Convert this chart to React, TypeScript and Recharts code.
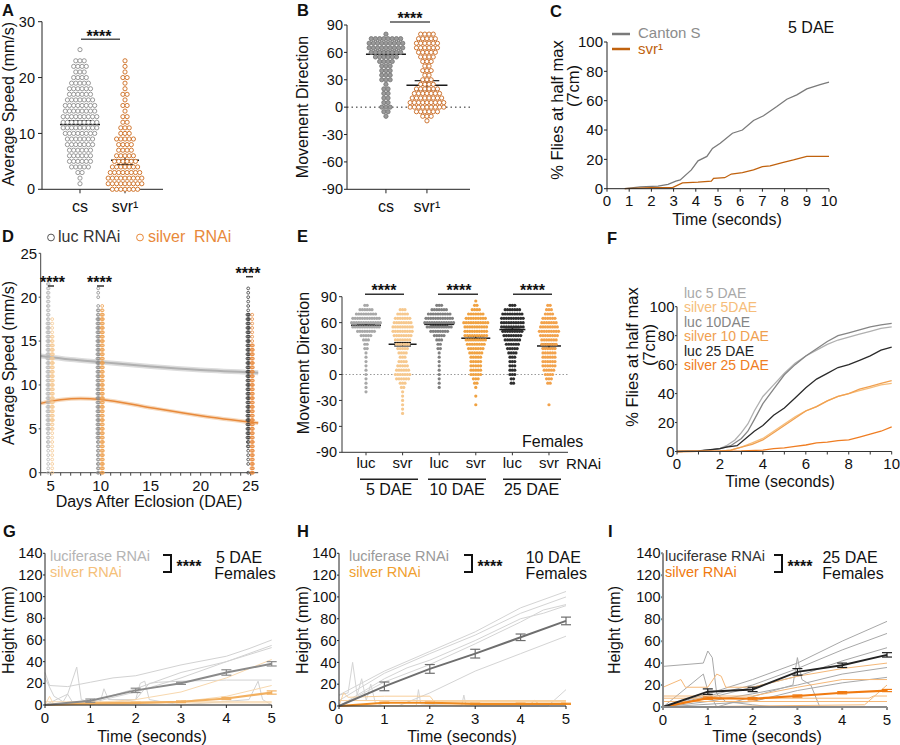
import React from "react";
import { ComposedChart, Scatter, Line, XAxis, YAxis, ReferenceLine, ErrorBar } from "recharts";

const W = 900;
const H = 745;
const FONT = '"Liberation Sans", Arial, Helvetica, sans-serif';
const NARROW = '"Liberation Sans Narrow", "Liberation Sans", Arial, sans-serif';

// ---------- A: average speed (mm/s), counts of flies per 1 mm/s row ----------
const strainNames = ["cs", "svr¹"];
const speedBins = [0, 1, 2, 3, 4, 5, 6, 7, 8, 9, 10, 11, 12, 13, 14, 15, 16, 17, 18, 19, 20, 21, 22, 23, 24, 25];
const csSpeedCounts = [0, 1, 1, 2, 5, 6, 6, 6, 7, 7, 8, 9, 9, 9, 8, 8, 7, 6, 6, 5, 4, 3, 4, 3, 0, 1];
const svrSpeedCounts = [7, 9, 9, 8, 7, 6, 5, 4, 4, 5, 3, 3, 2, 2, 1, 2, 1, 2, 1, 1, 2, 1, 1, 1, 0, 0];
const speedMeans = [11.6, 5.2];
const speedSems = [0.7, 0.8];

// ---------- B: movement direction, counts per 5 degree row ----------
const directionBins = [-15, -10, -5, 0, 5, 10, 15, 20, 25, 30, 35, 40, 45, 50, 55, 60, 65, 70, 75, 80];
const csDirCounts = [0, 1, 2, 3, 2, 2, 2, 2, 1, 3, 3, 3, 3, 4, 6, 8, 9, 9, 8, 1];
const svrDirCounts = [1, 3, 6, 9, 9, 8, 7, 6, 4, 3, 2, 3, 2, 3, 4, 5, 6, 6, 5, 4];
const dirMeans = [58, 24];
const dirSems = [3, 5];

// ---------- C: % flies at half max, 5 DAE ----------
const cantonS = [[0.8, 0], [1.5, 1.2], [2.3, 1.8], [2.75, 3], [3.1, 5.2], [3.3, 6], [3.8, 12.8], [4.1, 19], [4.5, 22], [4.75, 27.5], [5.1, 31], [5.65, 37.8], [6.1, 40], [6.6, 46.5], [7.05, 49.7], [7.65, 56], [8.1, 61], [8.55, 64], [9, 68], [9.6, 71], [10, 72.7]];
const svr1 = [[0.8, 0], [2, 0.7], [2.95, 0.7], [3.4, 4], [4.1, 4.5], [4.7, 5.2], [4.8, 7], [5.3, 7.5], [5.6, 10], [6.1, 11], [6.6, 12.8], [7, 15], [7.35, 15.5], [7.9, 17.8], [8.4, 19.6], [9, 22], [10, 22]];

// ---------- D: speed by age; counts per 0.5 mm/s row, one digit per row from 0 ----------
const ageDays = [5, 10, 25];
const lucSpeedRows = [
  "111111222233333333333333333333333332222222221000",
  "22222222333333333333333333333333333322101110",
  "1011112233333333333333333333333333333111111",
];
const silverSpeedRows = [
  "111111111122333333333333333333221111",
  "333333333333333333333333333333333333321",
  "3333333333333333333333333333331111111",
];
const lucTrend = [[4, 13.3], [7, 12.9], [10, 12.6], [15, 12.1], [20, 11.7], [25.75, 11.4]];
const silverTrend = [[4, 7.9], [6, 8.3], [8, 8.45], [10, 8.35], [15, 7.4], [20, 6.5], [25.75, 5.65]];

// ---------- E: female movement direction, counts per 5 degree row ----------
const rnaiNames = ["luc", "svr", "luc", "svr", "luc", "svr"];
const femaleDirBins = [-45, -40, -35, -30, -25, -20, -15, -10, -5, 0, 5, 10, 15, 20, 25, 30, 35, 40, 45, 50, 55, 60, 65, 70, 75, 80, 85];
const luc5Counts = [0, 0, 0, 0, 0, 1, 1, 1, 1, 1, 1, 1, 1, 1, 1, 2, 2, 3, 5, 8, 12, 13, 12, 9, 6, 2, 0];
const svr5Counts = [1, 1, 1, 1, 1, 1, 2, 3, 6, 7, 6, 5, 4, 3, 4, 5, 6, 7, 8, 9, 9, 8, 7, 5, 3, 0, 0];
const luc10Counts = [0, 0, 0, 0, 0, 0, 1, 1, 1, 1, 1, 1, 1, 1, 1, 2, 2, 3, 5, 8, 11, 13, 12, 10, 7, 3, 0];
const svr10Counts = [0, 0, 1, 0, 1, 0, 1, 2, 3, 5, 5, 5, 5, 5, 6, 7, 8, 9, 10, 10, 10, 11, 9, 7, 4, 2, 1];
const luc25Counts = [0, 0, 0, 0, 0, 0, 0, 2, 2, 3, 3, 3, 3, 3, 4, 5, 6, 7, 8, 9, 10, 10, 10, 9, 7, 3, 0];
const svr25Counts = [0, 0, 1, 0, 0, 0, 0, 2, 3, 4, 5, 6, 6, 6, 6, 6, 7, 7, 8, 9, 8, 7, 6, 4, 3, 2, 0];
const femaleDirMeans = [57, 35, 58, 42, 52, 33];
const femaleDirSems = [1.5, 2, 1.5, 2, 2, 2.5];

// ---------- F: % flies at half max by age ----------
const fLuc5 = [[0, 0], [1, 0.5], [1.5, 1], [2, 2], [2.3, 4], [2.7, 8], [3, 13], [3.3, 19], [3.6, 28], [4, 38], [4.5, 46], [5, 54], [5.5, 61], [6, 66], [6.5, 70], [7, 74], [7.5, 77], [8, 79], [8.5, 81], [9, 83], [9.5, 85], [10, 86]];
const fSilver5 = [[0, 0], [2, 0.3], [2.5, 1], [3, 3], [3.5, 6], [4, 9], [4.5, 14], [5, 19], [5.5, 24], [6, 28], [6.5, 31], [7, 35], [7.5, 38], [8, 40], [8.5, 42], [9, 44], [9.5, 46], [10, 47]];
const fLuc10 = [[0, 0], [1, 0.5], [1.5, 1], [2, 2], [2.5, 4], [3, 9], [3.3, 14], [3.6, 22], [4, 33], [4.5, 43], [5, 53], [5.5, 60], [6, 66], [6.5, 71], [7, 76], [7.5, 80], [8, 82], [8.5, 84], [9, 86], [9.5, 87.5], [10, 88.5]];
const fSilver10 = [[0, 0], [2, 0.3], [2.5, 1], [3, 3], [3.5, 5], [4, 8], [4.5, 13], [5, 18], [5.5, 23], [6, 28], [6.5, 31], [7, 35], [7.5, 38], [8, 40], [8.5, 43], [9, 45], [9.5, 47], [10, 49]];
const fLuc25 = [[0, 0], [1, 0.5], [2, 2], [2.3, 3], [2.8, 4], [3.2, 9], [3.6, 14], [4, 18], [4.5, 25], [5, 30], [5.5, 37], [6, 44], [6.5, 50], [7, 54], [7.5, 58], [8, 60], [8.5, 63], [9, 66], [9.5, 70], [10, 72]];
const fSilver25 = [[0, 0], [3, 0.5], [4, 1], [4.5, 2], [5, 2.5], [5.5, 3.5], [6, 4.5], [6.5, 6], [7, 6.5], [7.5, 7.5], [8, 8], [8.5, 10], [9, 12], [9.5, 14], [10, 17]];

// ---------- G/H/I: climbing height (mm) ----------
const seconds = [0, 1, 2, 3, 4, 5];
const gLucMean = [0, 4, 13.5, 20, 30, 38];
const gLucSem = [0, 1.5, 2, 1, 2.5, 2];
const gSilverMean = [0, 1.5, 2, 3, 6, 11.5];
const gSilverSem = [0, 0.5, 0.5, 0.8, 1, 1.5];
const gLucTraces = [
  [[0, 30], [0.1, 18], [0.5, 17], [1, 21], [1.5, 25], [2, 27], [3, 37], [4, 45], [4.5, 52], [5, 60]],
  [[0, 0], [1, 3], [2, 15], [3, 30], [4, 40], [5, 55]],
  [[0, 0], [1, 2], [2, 12], [3, 25], [4, 40], [5, 53]],
  [[0, 0], [1, 0], [2, 5], [2.3, 20], [2.5, 21], [3, 22], [4, 23], [5, 23]],
  [[0, 0], [0.5, 10], [0.7, 35], [0.8, 5], [1.2, 0], [1.3, 15], [1.4, 5], [2, 5], [2.1, 20], [2.2, 22], [2.3, 5], [3, 0], [4.5, 5], [4.7, 22], [4.8, 5], [5, 0]],
  [[0, 25], [0.2, 8], [0.4, 3], [0.5, 10], [0.6, 3], [1, 0], [5, 0]],
];
const gSilverTraces = [
  [[0, 0], [1, 2], [2, 5], [3, 12], [4, 25], [5, 42]],
  [[0, 0], [2, 1], [3, 3], [4, 8], [5, 18]],
  [[0, 3], [5, 3]],
  [[0, 0], [0.1, 8], [0.2, 0], [2, 2], [5, 2]],
];
const hLucMean = [0, 18, 34, 48, 63, 78];
const hLucSem = [0, 4, 4, 4, 3, 3.5];
const hSilverMean = [0, 3, 3, 2, 2, 2];
const hSilverSem = [0, 0.5, 0.5, 0.5, 0.5, 0.5];
const hLucTraces = [
  [[0, 10], [1, 32], [2, 50], [3, 68], [4, 90], [5, 105]],
  [[0, 5], [1, 30], [2, 48], [3, 65], [4, 85], [5, 100]],
  [[0, 0], [1, 25], [1.5, 35], [2, 42], [3, 60], [4, 80], [4.5, 85], [5, 92]],
  [[0, 0], [1, 22], [2, 38], [3, 57], [4, 77], [4.5, 88], [5, 93]],
  [[0, 0], [1.3, 0], [2, 12], [3, 32], [4, 48], [5, 64]],
  [[0, 0], [4.6, 0], [5, 15]],
  [[0, 10], [0.2, 12], [0.3, 40], [0.4, 10], [0.5, 25], [0.6, 5], [0.7, 20], [0.8, 3], [1, 0], [1.7, 0], [1.75, 15], [1.8, 2], [2.7, 0], [2.75, 10], [2.8, 0], [5, 0]],
];
const hSilverTraces = [
  [[0, 0], [0.1, 12], [0.2, 8], [1, 9], [2, 9], [2.1, 4], [5, 4]],
  [[0, 5], [5, 5]],
  [[0, 0], [4.2, 1], [4.3, 5], [4.4, 2], [5, 2]],
];
const iLucMean = [0, 14, 16, 32, 38, 47.5];
const iLucSem = [0, 2.5, 2, 3, 2, 2];
const iSilverMean = [0, 8, 7.5, 10, 13, 15];
const iSilverSem = [0, 1, 1, 1, 1, 1];
const iLucTraces = [
  [[0, 37], [0.9, 40], [1, 51], [1.1, 45], [1.2, 12], [1.4, 5], [2, 2], [2.5, 0]],
  [[0, 0], [1, 12], [2, 25], [3, 40], [4, 60], [5, 78]],
  [[0, 0], [1, 10], [2, 20], [3, 35], [4, 52], [5, 67]],
  [[0, 0], [1, 8], [2, 18], [3, 28], [4, 42], [5, 54]],
  [[0, 0], [1, 5], [2, 12], [3, 20], [4, 30], [5, 36]],
  [[0, 0], [2, 5], [3, 15], [4, 22], [5, 27]],
  [[0, 0], [0.9, 30], [1, 15], [1.2, 0], [2.9, 20], [3, 45], [3.1, 25], [3.3, 20], [3.5, 0]],
];
const iSilverTraces = [
  [[0, 18], [0.4, 25], [0.5, 18], [1, 18], [1.2, 30], [1.3, 28], [1.4, 18], [2, 18], [3, 28], [4, 35], [5, 40]],
  [[0, 10], [1, 10], [2, 10], [3, 18], [4, 25], [5, 25]],
  [[0, 5], [5, 5]],
  [[0, 0], [4.5, 2], [5, 20]],
  [[0, 8], [4.6, 8], [4.7, 10], [5, 10]],
];

// ---------- helpers ----------
const mg = (b, yw, xh) => ({ top: b.y0, left: b.x0 - yw, right: W - b.x1, bottom: H - b.y1 - xh });
const pairs = (arr) => arr.map(([x, y]) => ({ x, y }));
const withErr = (mean, sem) => seconds.map((t, i) => ({ x: t, y: mean[i], err: sem[i] }));

function swarm(bins, counts, cx, step) {
  const out = [];
  bins.forEach((v, i) => {
    const n = counts[i] || 0;
    for (let k = 0; k < n; k++) out.push({ x: cx + (k - (n - 1) / 2) * step, y: v });
  });
  return out;
}

function strip(rows, cx, step) {
  const out = [];
  rows.split("").forEach((d, i) => {
    const n = Number(d);
    for (let k = 0; k < n; k++) out.push({ x: cx + (k - (n - 1) / 2) * step, y: i * 0.5 });
  });
  return out;
}

const ring = (color, r, fill = "#fff", w = 0.9) => (p) => (
  <circle cx={p.cx} cy={p.cy} r={r} fill={fill} stroke={color} strokeWidth={w} />
);

const tickStyle = (size = 14, family = FONT) => ({ fill: "#111", fontSize: size, fontFamily: family });
const abs: React.CSSProperties = { position: "absolute", left: 0, top: 0 };

function meanMarks(key, cx, mean, sem, half, unit, color = "#1a1a1a") {
  const hw = half / unit;
  const cw = (half * 0.6) / unit;
  return [
    <ReferenceLine key={key + "m"} segment={[{ x: cx - hw, y: mean }, { x: cx + hw, y: mean }]} stroke={color} strokeWidth={1.5} />,
    <ReferenceLine key={key + "u"} segment={[{ x: cx - cw, y: mean + sem }, { x: cx + cw, y: mean + sem }]} stroke={color} strokeWidth={1.2} />,
    <ReferenceLine key={key + "l"} segment={[{ x: cx - cw, y: mean - sem }, { x: cx + cw, y: mean - sem }]} stroke={color} strokeWidth={1.2} />,
    <ReferenceLine key={key + "v"} segment={[{ x: cx, y: mean - sem }, { x: cx, y: mean + sem }]} stroke={color} strokeWidth={1.2} />,
  ];
}

// ---------- panels ----------
function PanelA() {
  const b = { x0: 42, y0: 21.7, x1: 163, y1: 189.3 };
  const unit = 45;
  return (
    <div style={abs}>
      <ComposedChart width={W} height={H} margin={mg(b, 36, 34)}>
        <XAxis type="number" dataKey="x" domain={[0.156, 2.844]} ticks={[1, 2]} interval={0}
          tickFormatter={(v) => strainNames[v - 1]} height={34} stroke="#222" tickSize={4} tickMargin={7}
          tick={tickStyle(16, NARROW)} />
        <YAxis type="number" dataKey="y" domain={[0, 30]} ticks={[0, 10, 20, 30]} interval={0}
          width={36} stroke="#222" tickSize={4} tickMargin={3} tick={tickStyle(14.5)} />
        <Scatter data={swarm(speedBins, csSpeedCounts, 1, 4.2 / unit)} shape={ring("#8c8c8c", 2.1)} isAnimationActive={false} />
        <Scatter data={swarm(speedBins, svrSpeedCounts, 2, 4.2 / unit)} shape={ring("#cc6a1c", 2.1)} isAnimationActive={false} />
        {meanMarks("a0", 1, speedMeans[0], speedSems[0], 20, unit)}
        {meanMarks("a1", 2, speedMeans[1], speedSems[1], 14, unit)}
      </ComposedChart>
    </div>
  );
}

function PanelB() {
  const b = { x0: 347, y0: 25, x1: 470, y1: 189.3 };
  const unit = 41;
  return (
    <div style={abs}>
      <ComposedChart width={W} height={H} margin={mg(b, 36, 34)}>
        <XAxis type="number" dataKey="x" domain={[0.05, 3.05]} ticks={[1, 2]} interval={0}
          tickFormatter={(v) => strainNames[v - 1]} height={34} stroke="#222" tickSize={4} tickMargin={7}
          tick={tickStyle(16, NARROW)} />
        <YAxis type="number" dataKey="y" domain={[-90, 90]} ticks={[-90, -60, -30, 0, 30, 60, 90]} interval={0}
          width={36} stroke="#222" tickSize={3} tickMargin={1} tick={tickStyle(14.5)} />
        <ReferenceLine y={0} stroke="#222" strokeDasharray="1.5 3" />
        <Scatter data={swarm(directionBins, csDirCounts, 1, 4.2 / unit)} shape={ring("#777", 2.1, "#9a9a9a")} isAnimationActive={false} />
        <Scatter data={swarm(directionBins, svrDirCounts, 2, 4.2 / unit)} shape={ring("#c8681e", 2.1)} isAnimationActive={false} />
        {meanMarks("b0", 1, dirMeans[0], dirSems[0], 20, unit)}
        {meanMarks("b1", 2, dirMeans[1], dirSems[1], 20.5, unit)}
      </ComposedChart>
    </div>
  );
}

function PanelC() {
  const b = { x0: 607, y0: 42, x1: 829, y1: 188.7 };
  return (
    <div style={abs}>
      <ComposedChart width={W} height={H} margin={mg(b, 40, 30)}>
        <XAxis type="number" dataKey="x" domain={[0, 10]} ticks={[0, 1, 2, 3, 4, 5, 6, 7, 8, 9, 10]} interval={0}
          height={30} stroke="#222" tickSize={3} tickMargin={3.6} tick={tickStyle(15)} />
        <YAxis type="number" domain={[0, 100]} ticks={[0, 20, 40, 60, 80, 100]} interval={0}
          width={40} stroke="#222" tickSize={3} tickMargin={1} tick={tickStyle(15)} />
        <Line data={pairs(cantonS)} dataKey="y" stroke="#7a7a7a" strokeWidth={1.3} dot={false} isAnimationActive={false} />
        <Line data={pairs(svr1)} dataKey="y" stroke="#c0620e" strokeWidth={1.3} dot={false} isAnimationActive={false} />
      </ComposedChart>
    </div>
  );
}

function PanelD() {
  const b = { x0: 40.7, y0: 253.3, x1: 258.2, y1: 472.7 };
  const lucColors = ["#b8b8b8", "#8a8a8a", "#3a3a3a"];
  const silverColors = ["#f5c68e", "#ee9f4e", "#e8883a"];
  const dayTicks = [4, 5, 6, 7, 8, 9, 10, 11, 12, 13, 14, 15, 16, 17, 18, 19, 20, 21, 22, 23, 24, 25];
  return (
    <div style={abs}>
      <ComposedChart width={W} height={H} margin={mg(b, 38, 30)}>
        <XAxis type="number" dataKey="x" domain={[4, 25.75]} ticks={dayTicks} interval={0}
          tickFormatter={(v) => (v % 5 === 0 ? String(v) : "")} height={30} stroke="#444"
          tickSize={3} tickMargin={4.6} tick={tickStyle(15)} />
        <YAxis type="number" dataKey="y" domain={[0, 25]} ticks={[0, 5, 10, 15, 20, 25]} interval={0}
          width={38} stroke="#444" tickSize={2} tickMargin={1.5} tick={tickStyle(15)} />
        {ageDays.map((d, i) => (
          <Scatter key={"l" + d} data={strip(lucSpeedRows[i], d - 0.25, 0.08)} shape={ring(lucColors[i], 1.4, "none", 0.8)} isAnimationActive={false} />
        ))}
        {ageDays.map((d, i) => (
          <Scatter key={"s" + d} data={strip(silverSpeedRows[i], d + 0.15, 0.08)} shape={ring(silverColors[i], 1.4, "none", 0.8)} isAnimationActive={false} />
        ))}
        <Line data={pairs(lucTrend)} dataKey="y" type="monotone" stroke="#dcdcdc" strokeWidth={5} dot={false} isAnimationActive={false} />
        <Line data={pairs(lucTrend)} dataKey="y" type="monotone" stroke="#b0b0b0" strokeWidth={2} dot={false} isAnimationActive={false} />
        <Line data={pairs(silverTrend)} dataKey="y" type="monotone" stroke="#f6d9bd" strokeWidth={4} dot={false} isAnimationActive={false} />
        <Line data={pairs(silverTrend)} dataKey="y" type="monotone" stroke="#e8893a" strokeWidth={1.5} dot={false} isAnimationActive={false} />
      </ComposedChart>
    </div>
  );
}

function PanelE() {
  const b = { x0: 342, y0: 296.7, x1: 568, y1: 452.3 };
  const unit = 36.6;
  const groups = [luc5Counts, svr5Counts, luc10Counts, svr10Counts, luc25Counts, svr25Counts];
  const colors = ["#a8a8a8", "#f6c88e", "#808080", "#f0a242", "#2e2e2e", "#f2a24c"];
  const halves = [15, 14, 15, 14.5, 13, 12];
  return (
    <div style={abs}>
      <ComposedChart width={W} height={H} margin={mg(b, 36, 30)}>
        <XAxis type="number" dataKey="x" domain={[0.344, 6.52]} ticks={[1, 2, 3, 4, 5, 6]} interval={0}
          tickFormatter={(v) => rnaiNames[v - 1]} height={30} stroke="#333" tickSize={3} tickMargin={2.3}
          tick={tickStyle(15)} />
        <YAxis type="number" dataKey="y" domain={[-90, 90]} ticks={[-90, -60, -30, 0, 30, 60, 90]} interval={0}
          width={36} stroke="#333" tickSize={3} tickMargin={2} tick={tickStyle(14.5)} />
        <ReferenceLine y={0} stroke="#9a9a9a" strokeDasharray="1.5 2" />
        {groups.map((g, i) => (
          <Scatter key={"e" + i} data={swarm(femaleDirBins, g, i + 1, 2.4 / unit)}
            shape={(p) => <circle cx={p.cx} cy={p.cy} r={1.6} fill={colors[i]} />} isAnimationActive={false} />
        ))}
        {groups.map((_, i) => meanMarks("e" + i, i + 1, femaleDirMeans[i], femaleDirSems[i], halves[i], unit))}
      </ComposedChart>
    </div>
  );
}

function PanelF() {
  const b = { x0: 677, y0: 306.7, x1: 891.7, y1: 451.5 };
  const series = [
    [fLuc5, "#b0b0b0"],
    [fLuc10, "#858585"],
    [fLuc25, "#2a2a2a"],
    [fSilver5, "#f6bd7a"],
    [fSilver10, "#f0a050"],
    [fSilver25, "#ef7d22"],
  ];
  return (
    <div style={abs}>
      <ComposedChart width={W} height={H} margin={mg(b, 40, 30)}>
        <XAxis type="number" dataKey="x" domain={[0, 10]} ticks={[0, 1, 2, 3, 4, 5, 6, 7, 8, 9, 10]} interval={0}
          tickFormatter={(v) => (v % 2 === 0 ? String(v) : "")} height={30} stroke="#333" tickSize={3}
          tickMargin={4.2} tick={tickStyle(15)} />
        <YAxis type="number" domain={[0, 100]} ticks={[0, 20, 40, 60, 80, 100]} interval={0}
          width={40} stroke="#333" tickSize={2} tickMargin={0.5} tick={tickStyle(15)} />
        {series.map(([d, c], i) => (
          <Line key={"f" + i} data={pairs(d)} dataKey="y" stroke={c as string} strokeWidth={1.3} dot={false} isAnimationActive={false} />
        ))}
      </ComposedChart>
    </div>
  );
}

function ClimbPanel({ b, lucTraces, silverTraces, lucMean, lucSem, silverMean, silverSem, col, axisColor = "#222", axisWidth = 1 }) {
  return (
    <div style={abs}>
      <ComposedChart width={W} height={H} margin={mg(b, 40, 30)}>
        <XAxis type="number" dataKey="x" domain={[0, 5]} ticks={seconds} interval={0} height={30}
          stroke={axisColor} strokeWidth={axisWidth} tickSize={3} tickMargin={4} tick={tickStyle(15)} />
        <YAxis type="number" domain={[0, 140]} ticks={[0, 20, 40, 60, 80, 100, 120, 140]} interval={0}
          width={40} stroke={axisColor} strokeWidth={axisWidth} tickSize={2} tickMargin={0.5} tick={tickStyle(14.5)} />
        {lucTraces.map((t, i) => (
          <Line key={"lt" + i} data={pairs(t)} dataKey="y" stroke={col.lucTrace} strokeWidth={1} dot={false} isAnimationActive={false} />
        ))}
        {silverTraces.map((t, i) => (
          <Line key={"st" + i} data={pairs(t)} dataKey="y" stroke={col.silverTrace} strokeWidth={1} dot={false} isAnimationActive={false} />
        ))}
        <Line data={withErr(silverMean, silverSem)} dataKey="y" stroke={col.silver} strokeWidth={2.2} dot={false} isAnimationActive={false}>
          <ErrorBar dataKey="err" width={5} stroke={col.silver} strokeWidth={1.2} direction="y" />
        </Line>
        <Line data={withErr(lucMean, lucSem)} dataKey="y" stroke={col.luc} strokeWidth={2} dot={false} isAnimationActive={false}>
          <ErrorBar dataKey="err" width={5} stroke={col.luc} strokeWidth={1.2} direction="y" />
        </Line>
      </ComposedChart>
    </div>
  );
}

// ---------- text layer ----------
function T({ x, y, c = "#111", s = 16, a = "start", w = "normal", rot = false, children }: any) {
  if (rot) {
    return (
      <text transform={`translate(${x},${y}) rotate(-90)`} textAnchor="middle" dominantBaseline="central" fontSize={s} fill={c}>
        {children}
      </text>
    );
  }
  return (
    <text x={x} y={y} textAnchor={a} dominantBaseline="central" fontSize={s} fontWeight={w} fill={c}>
      {children}
    </text>
  );
}

const Stars = ({ x, y }) => <T x={x} y={y + 3.2} a="middle" w="bold" s={16}>****</T>;
const Bracket = ({ x0, x1, y0, y1 }) => (
  <path d={`M${x0},${y0} H${x1} V${y1} H${x0}`} fill="none" stroke="#111" strokeWidth={2} />
);

function Texts() {
  const letters = [["A", 2, 10], ["B", 297, 10], ["C", 550, 11], ["D", 2, 236], ["E", 297, 236], ["F", 607, 237.5], ["G", 3, 530.5], ["H", 297, 530.5], ["I", 608, 530.5]];
  return (
    <svg width={W} height={H} style={{ ...abs, fontFamily: FONT }}>
      {letters.map(([l, x, y]) => (
        <T key={l as string} x={x} y={y} w="900" s={16.5}>{l}</T>
      ))}

      {/* A */}
      <T x={8.5} y={104} rot>Average Speed (mm/s)</T>
      <Stars x={99} y={33.3} />
      <line x1={81} x2={120} y1={39.3} y2={39.3} stroke="#555" strokeWidth={1.5} />

      {/* B */}
      <T x={302} y={107} rot>Movement Direction</T>
      <Stars x={410} y={15} />
      <line x1={390} x2={430} y1={22} y2={22} stroke="#555" strokeWidth={1.5} />

      {/* C */}
      <line x1={612} x2={630} y1={34} y2={34} stroke="#7a7a7a" strokeWidth={2.5} />
      <T x={638} y={32} s={15} c="#8c8c8c">Canton S</T>
      <line x1={612} x2={630} y1={49} y2={49} stroke="#c0620e" strokeWidth={2.5} />
      <T x={638} y={48} s={15} c="#c0620e">svr¹</T>
      <T x={788} y={27}>5 DAE</T>
      <T x={557} y={110} s={16.5} rot>% Flies at half max</T>
      <T x={573} y={86} s={16.5} rot>(7cm)</T>
      <T x={727} y={219} a="middle">Time (seconds)</T>

      {/* D */}
      <circle cx={51} cy={237.5} r={3.4} fill="none" stroke="#555" strokeWidth={1} />
      <T x={58} y={236.2} c="#333">luc RNAi</T>
      <circle cx={140} cy={237.5} r={3.4} fill="none" stroke="#e8893a" strokeWidth={1} />
      <T x={148} y={236.2} c="#e8893a">silver</T>
      <T x={194} y={236.2} c="#e8893a">RNAi</T>
      <T x={8.5} y={363} rot>Average Speed (mm/s)</T>
      <Stars x={52.5} y={279} />
      <line x1={48} x2={54} y1={286} y2={286} stroke="#333" strokeWidth={1.5} />
      <Stars x={99.5} y={279} />
      <line x1={97} x2={104} y1={286} y2={286} stroke="#333" strokeWidth={1.5} />
      <Stars x={248} y={270} />
      <line x1={246} x2={253} y1={276.7} y2={276.7} stroke="#333" strokeWidth={1.5} />
      <T x={149} y={501} a="middle">Days After Eclosion (DAE)</T>

      {/* E */}
      <T x={303.5} y={363} rot>Movement Direction</T>
      <Stars x={384} y={287.5} />
      <line x1={365} x2={404} y1={294.3} y2={294.3} stroke="#333" strokeWidth={1.5} />
      <Stars x={459} y={287.5} />
      <line x1={438} x2={478} y1={294.3} y2={294.3} stroke="#333" strokeWidth={1.5} />
      <Stars x={532.5} y={287.5} />
      <line x1={513} x2={552} y1={294.3} y2={294.3} stroke="#333" strokeWidth={1.5} />
      <T x={522} y={441}>Females</T>
      <T x={566} y={463} s={15}>RNAi</T>
      <line x1={360} x2={418} y1={479.3} y2={479.3} stroke="#222" strokeWidth={1.5} />
      <line x1={428} x2={486} y1={479.3} y2={479.3} stroke="#222" strokeWidth={1.5} />
      <line x1={503} x2={561} y1={479.3} y2={479.3} stroke="#222" strokeWidth={1.5} />
      <T x={389} y={489.5} a="middle">5 DAE</T>
      <T x={457} y={489.5} a="middle">10 DAE</T>
      <T x={531.5} y={489.5} a="middle">25 DAE</T>

      {/* F */}
      <T x={684} y={292.8} s={14} c="#a8a8a8">luc 5 DAE</T>
      <T x={684} y={307.3} s={14} c="#f6bd7a">silver 5DAE</T>
      <T x={684} y={321.8} s={14} c="#858585">luc 10DAE</T>
      <T x={684} y={336.3} s={14} c="#f0a050">silver 10 DAE</T>
      <T x={684} y={350.8} s={14} c="#222">luc 25 DAE</T>
      <T x={684} y={365.3} s={14} c="#ef7d22">silver 25 DAE</T>
      <T x={631.5} y={357} s={16.5} rot>% Flies at half max</T>
      <T x={649} y={345} s={16.5} rot>(7cm)</T>
      <T x={780} y={481.5} a="middle">Time (seconds)</T>

      {/* G */}
      <T x={8} y={630} rot>Height (mm)</T>
      <T x={50} y={555.5} s={14.5} c="#b4b4b4">luciferase RNAi</T>
      <T x={50} y={571.5} s={14.5} c="#f5c07a">silver RNAi</T>
      <Bracket x0={163} x1={171} y0={555} y1={572} />
      <Stars x={189} y={563.3} />
      <T x={239} y={557.8} a="middle">5 DAE</T>
      <T x={245} y={573.8} a="middle">Females</T>
      <T x={152} y={736} a="middle">Time (seconds)</T>

      {/* H */}
      <T x={302.5} y={630} rot>Height (mm)</T>
      <T x={349} y={555.5} s={14.5} c="#9a9a9a">luciferase RNAi</T>
      <T x={349} y={571.5} s={14.5} c="#f0a030">silver RNAi</T>
      <Bracket x0={464} x1={472} y0={555} y1={572} />
      <Stars x={490} y={563.3} />
      <T x={553.3} y={557.8} a="middle">10 DAE</T>
      <T x={556.3} y={573.8} a="middle">Females</T>
      <T x={462} y={736} a="middle">Time (seconds)</T>

      {/* I */}
      <T x={614} y={630} rot>Height (mm)</T>
      <T x={665} y={555.5} s={14.5} c="#333">luciferase RNAi</T>
      <T x={665} y={571.5} s={14.5} c="#f07a10">silver RNAi</T>
      <Bracket x0={774} x1={782} y0={555} y1={572} />
      <Stars x={800} y={563.3} />
      <T x={850} y={557.8} a="middle">25 DAE</T>
      <T x={853} y={573.8} a="middle">Females</T>
      <T x={767} y={736} a="middle">Time (seconds)</T>
    </svg>
  );
}

export default function App() {
  return (
    <div style={{ position: "absolute", left: 0, top: 0, width: W, height: H, background: "#fff", fontFamily: FONT, overflow: "hidden" }}>
      <PanelA />
      <PanelB />
      <PanelC />
      <PanelD />
      <PanelE />
      <PanelF />
      <ClimbPanel b={{ x0: 45, y0: 553.3, x1: 271.7, y1: 705 }} lucTraces={gLucTraces} silverTraces={gSilverTraces}
        lucMean={gLucMean} lucSem={gLucSem} silverMean={gSilverMean} silverSem={gSilverSem}
        col={{ lucTrace: "#d2d2d2", silverTrace: "#f8d8ae", luc: "#8a8a8a", silver: "#f2b060" }} />
      <ClimbPanel b={{ x0: 339, y0: 553.3, x1: 566, y1: 706 }} lucTraces={hLucTraces} silverTraces={hSilverTraces}
        lucMean={hLucMean} lucSem={hLucSem} silverMean={hSilverMean} silverSem={hSilverSem}
        col={{ lucTrace: "#d4d4d4", silverTrace: "#f8cf9a", luc: "#6e6e6e", silver: "#f08c20" }} />
      <ClimbPanel b={{ x0: 663, y0: 553.3, x1: 887, y1: 707 }} lucTraces={iLucTraces} silverTraces={iSilverTraces}
        lucMean={iLucMean} lucSem={iLucSem} silverMean={iSilverMean} silverSem={iSilverSem}
        col={{ lucTrace: "#a8a8a8", silverTrace: "#f5b878", luc: "#222", silver: "#f07a10" }}
        axisColor="#8a8a8a" axisWidth={2} />
      <Texts />
    </div>
  );
}
